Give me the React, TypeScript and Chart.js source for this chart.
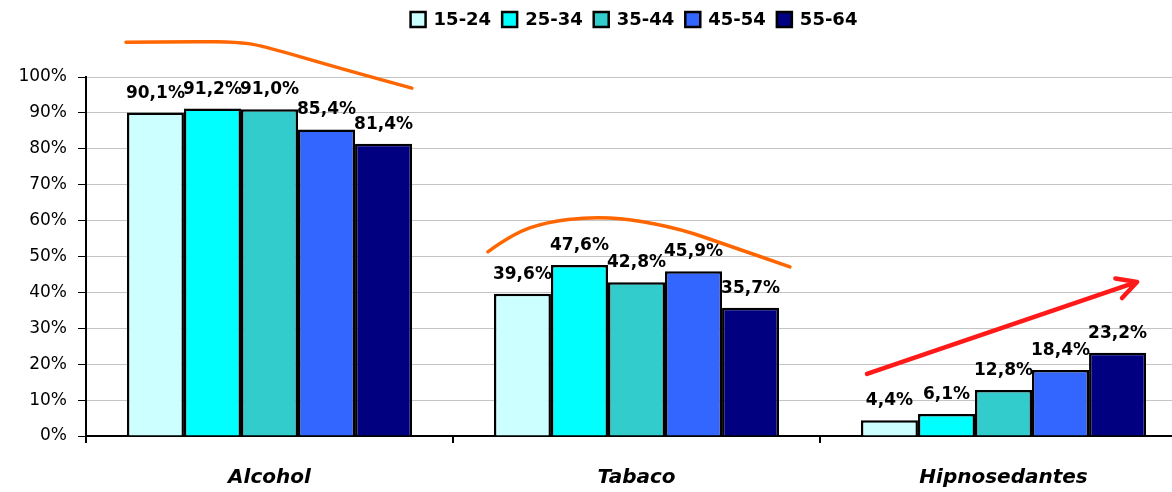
import { useEffect, useRef } from 'react';
import { Chart, registerables } from 'chart.js';

Chart.register(...registerables);

const categories = ['Alcohol', 'Tabaco', 'Hipnosedantes'];
const ageGroups = ['15-24', '25-34', '35-44', '45-54', '55-64'];
const age15_24 = [90.1, 39.6, 4.4];
const age25_34 = [91.2, 47.6, 6.1];
const age35_44 = [91.0, 42.8, 12.8];
const age45_54 = [85.4, 45.9, 18.4];
const age55_64 = [81.4, 35.7, 23.2];
const seriesValues = [age15_24, age25_34, age35_44, age45_54, age55_64];
const seriesColors = ['#CCFFFF', '#00FFFF', '#33CCCC', '#3366FF', '#000080'];
const yTickLabels = ['0%', '10%', '20%', '30%', '40%', '50%', '60%', '70%', '80%', '90%', '100%'];

// Hand-drawn annotations, in [category position, percent] units
const alcoholTrend: [number, number][] = [
  [-0.391, 109.7], [-0.2, 109.9], [-0.089, 109.7], [-0.026, 108.9], [0.2, 102.2], [0.388, 96.9],
];
const tabacoTrend: [number, number][] = [
  [0.595, 51.3], [0.663, 56.3], [0.755, 59.6], [0.873, 61.0], [0.982, 60.4], [1.119, 57.7], [1.255, 52.9], [1.418, 47.1],
];
const hipnoArrow: [number, number][] = [[1.628, 17.3], [2.364, 42.9]];

const FONT = '"DejaVu Sans", Lato, sans-serif';

const fmt = (v: number) => v.toFixed(1).replace('.', ',') + '%';

const overlayPlugin = {
  id: 'overlay',
  afterDatasetsDraw(chart: any) {
    const ctx = chart.ctx;
    ctx.save();
    ctx.font = `bold 17px ${FONT}`;
    ctx.fillStyle = '#000';
    ctx.textAlign = 'center';
    ctx.textBaseline = 'alphabetic';
    chart.data.datasets.forEach((ds: any, di: number) => {
      const meta = chart.getDatasetMeta(di);
      meta.data.forEach((bar: any, i: number) => {
        ctx.fillText(fmt(ds.data[i]), bar.x, bar.y - 15);
      });
    });
    ctx.restore();
  },
  afterDraw(chart: any) {
    const ctx = chart.ctx;
    const xs = chart.scales.x;
    const ys = chart.scales.y;
    const toPx = (p: [number, number]) => [xs.getPixelForValue(p[0]), ys.getPixelForValue(p[1])];

    const smooth = (pts: [number, number][], color: string, width: number) => {
      const px = pts.map(toPx);
      ctx.save();
      ctx.strokeStyle = color;
      ctx.lineWidth = width;
      ctx.lineCap = 'round';
      ctx.lineJoin = 'round';
      ctx.beginPath();
      ctx.moveTo(px[0][0], px[0][1]);
      for (let i = 1; i < px.length - 1; i++) {
        const mx = (px[i][0] + px[i + 1][0]) / 2;
        const my = (px[i][1] + px[i + 1][1]) / 2;
        ctx.quadraticCurveTo(px[i][0], px[i][1], mx, my);
      }
      const last = px[px.length - 1];
      ctx.lineTo(last[0], last[1]);
      ctx.stroke();
      ctx.restore();
    };
    smooth(alcoholTrend, '#FF6600', 3.5);
    smooth(tabacoTrend, '#FF6600', 3.5);

    // arrow
    const [a, b] = hipnoArrow.map(toPx);
    ctx.save();
    ctx.strokeStyle = '#FF1A1A';
    ctx.lineWidth = 4.5;
    ctx.lineCap = 'round';
    ctx.lineJoin = 'round';
    ctx.beginPath();
    ctx.moveTo(a[0], a[1]);
    ctx.lineTo(b[0], b[1]);
    const ang = Math.atan2(a[1] - b[1], a[0] - b[0]);
    const L = 22;
    const spread = (28 * Math.PI) / 180;
    ctx.moveTo(b[0] + L * Math.cos(ang - spread), b[1] + L * Math.sin(ang - spread));
    ctx.lineTo(b[0], b[1]);
    ctx.lineTo(b[0] + L * Math.cos(ang + spread), b[1] + L * Math.sin(ang + spread));
    ctx.stroke();
    ctx.restore();

    // legend
    ctx.save();
    ctx.font = `bold 18px ${FONT}`;
    ctx.textBaseline = 'middle';
    ctx.textAlign = 'left';
    const box = 15;
    const gapBoxText = 8;
    const gapItems = 11;
    const widths = chart.data.datasets.map((ds: any) => box + gapBoxText + ctx.measureText(ds.label).width);
    const total = widths.reduce((s: number, w: number) => s + w, 0) + gapItems * (widths.length - 1);
    let x = 634 - total / 2;
    const cy = 19.5;
    chart.data.datasets.forEach((ds: any, i: number) => {
      ctx.fillStyle = ds.backgroundColor;
      ctx.fillRect(x, cy - box / 2, box, box);
      ctx.strokeStyle = '#000';
      ctx.lineWidth = 2.5;
      ctx.strokeRect(x, cy - box / 2, box, box);
      ctx.fillStyle = '#000';
      ctx.fillText(ds.label, x + box + gapBoxText, cy + 1);
      x += widths[i] + gapItems;
    });
    ctx.restore();
  },
};

export default function App() {
  const ref = useRef<HTMLCanvasElement | null>(null);
  useEffect(() => {
    document.body.style.overflow = 'hidden';
    if (!ref.current) return;
    const chart = new Chart(ref.current, {
      type: 'bar',
      data: {
        labels: categories,
        datasets: ageGroups.map((g, i) => ({
          label: g,
          data: seriesValues[i],
          backgroundColor: seriesColors[i],
          borderColor: '#000',
          borderWidth: 2.5,
          categoryPercentage: 0.777,
          barPercentage: 1,
        })),
      },
      options: {
        animation: false,
        responsive: false,
        maintainAspectRatio: false,
        layout: { padding: { top: 77, right: 3, left: 0, bottom: 0 } },
        plugins: { legend: { display: false }, tooltip: { enabled: false } },
        scales: {
          x: {
            afterFit: (s: any) => { s.height = 56; },
            grid: {
              offset: true,
              drawOnChartArea: false,
              drawTicks: true,
              tickLength: 7,
              color: '#000',
              lineWidth: 2,
            },
            border: { display: true, color: '#000', width: 2 },
            ticks: {
              color: '#000',
              font: { family: FONT, size: 20, weight: 'bold', style: 'italic' },
              padding: 23,
            },
          },
          y: {
            min: 0,
            max: 100,
            afterFit: (s: any) => { s.width = 86; },
            ticks: {
              stepSize: 10,
              color: '#000',
              font: { family: FONT, size: 17 },
              padding: 11,
              callback: (v: any) => yTickLabels[Math.round(Number(v) / 10)],
            },
            grid: {
              color: '#C4C4C4',
              lineWidth: 1,
              tickColor: '#000',
              tickLength: 8,
            },
            border: { display: true, color: '#000', width: 2 },
          },
        },
      },
      plugins: [overlayPlugin],
    } as any);
    return () => chart.destroy();
  }, []);
  return (
    <div style={{ position: 'fixed', left: 0, top: 0, width: 1190, height: 492 }}>
      <canvas ref={ref} width={1190} height={492} style={{ width: 1190, height: 492 }} />
    </div>
  );
}
